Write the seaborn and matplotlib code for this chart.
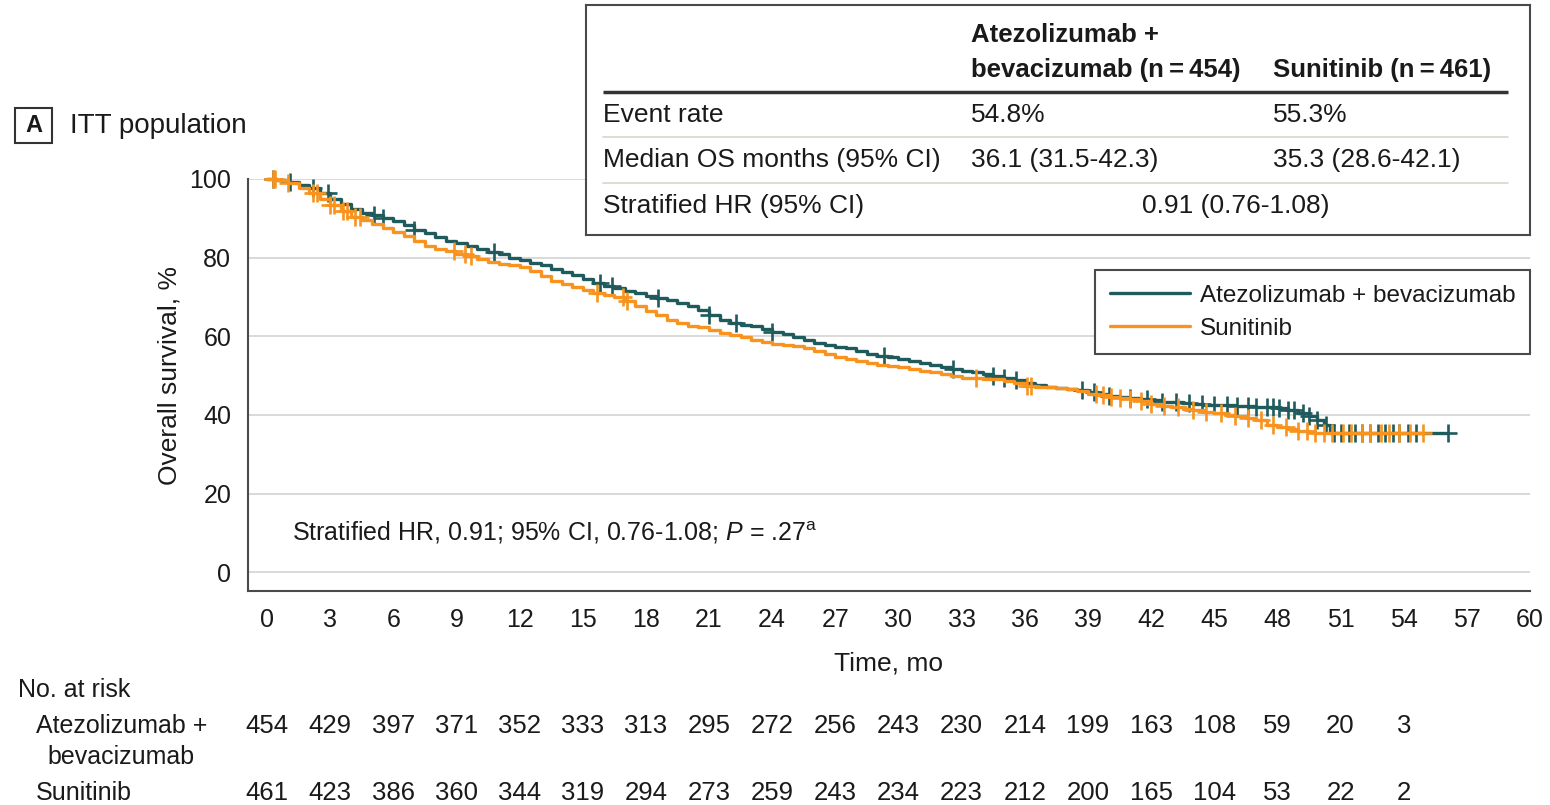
import numpy as np
import pandas as pd
import matplotlib
matplotlib.use("Agg")
import matplotlib.pyplot as plt
import seaborn as sns
from matplotlib.patches import Rectangle
from matplotlib.lines import Line2D
from matplotlib.transforms import blended_transform_factory

# ---------------- data ----------------
arm_names = ["Atezolizumab + bevacizumab", "Sunitinib"]

atezo_months = [0, 0.5, 1.0, 1.5, 2.0, 2.5, 3.0, 3.5, 4.0, 4.5, 5.0, 5.5, 6.0, 6.5,
                7.0, 7.5, 8.0, 8.5, 9.0, 9.5, 10.0, 10.5, 11.0, 11.5, 12.0, 12.5,
                13.0, 13.5, 14.0, 14.5, 15.0, 15.5, 16.0, 16.5, 17.0, 17.5, 18.0,
                18.5, 19.0, 19.5, 20.0, 20.5, 21.0, 21.5, 22.0, 22.5, 23.0, 23.5,
                24.0, 24.5, 25.0, 25.5, 26.0, 26.5, 27.0, 27.5, 28.0, 28.5, 29.0,
                29.5, 30.0, 30.5, 31.0, 31.5, 32.0, 32.5, 33.0, 33.5, 34.0, 34.5,
                35.0, 35.5, 36.0, 36.5, 37.0, 37.5, 38.0, 38.5, 39.0, 39.5, 40.0,
                40.5, 41.0, 41.5, 42.0, 42.5, 43.0, 43.5, 44.0, 44.5, 45.0, 45.5,
                46.0, 46.5, 47.0, 47.5, 48.0, 48.5, 49.0, 49.5, 49.9, 50.2, 50.5]
atezo_surv = [100, 99.8, 99.3, 98.5, 97.6, 96.4, 95.0, 93.6, 92.3, 91.4, 90.9, 90.2,
              89.3, 88.2, 87.0, 86.2, 85.2, 84.3, 83.6, 83.0, 82.3, 81.5, 80.9, 80.0,
              79.3, 78.7, 78.0, 77.2, 76.4, 75.5, 74.6, 73.6, 72.9, 72.3, 71.6, 70.9,
              70.3, 69.8, 69.2, 68.4, 67.6, 66.7, 65.3, 64.2, 63.4, 62.9, 62.5, 61.9,
              61.2, 60.6, 59.9, 59.1, 58.4, 57.8, 57.3, 56.9, 56.3, 55.5, 55.0, 54.6,
              54.1, 53.7, 53.2, 52.7, 52.1, 51.6, 51.2, 50.8, 50.4, 49.9, 49.4, 48.9,
              48.2, 47.6, 47.2, 46.9, 46.6, 46.3, 45.9, 45.3, 44.9, 44.6, 44.3, 44.0,
              43.7, 43.4, 43.2, 43.0, 42.8, 42.6, 42.5, 42.4, 42.3, 42.2, 42.1, 42.0,
              41.8, 41.3, 40.6, 39.6, 38.6, 37.4, 35.5]
atezo_censored = [0.3, 1.1, 2.2, 2.9, 5.1, 5.5, 7.0, 10.8, 15.8, 16.4, 18.6, 21.0,
                  22.3, 24.0, 29.3, 32.6, 34.5, 35.0, 35.6, 38.7, 39.3, 40.0, 41.0,
                  41.8, 42.5, 43.2, 43.8, 44.4, 45.0, 45.6, 46.1, 46.6, 47.0, 47.5,
                  47.8, 48.1, 48.5, 48.8, 49.2, 49.5, 49.9, 50.3, 50.7, 51.0, 51.4,
                  51.7, 52.0, 52.4, 52.8, 53.1, 53.5, 53.8, 54.2, 54.6, 56.1]

suni_months = [0, 0.5, 1.0, 1.5, 2.0, 2.5, 3.0, 3.5, 4.0, 4.5, 5.0, 5.5, 6.0, 6.5,
               7.0, 7.5, 8.0, 8.5, 9.0, 9.5, 10.0, 10.5, 11.0, 11.5, 12.0, 12.5,
               13.0, 13.5, 14.0, 14.5, 15.0, 15.5, 16.0, 16.5, 17.0, 17.5, 18.0,
               18.5, 19.0, 19.5, 20.0, 20.5, 21.0, 21.5, 22.0, 22.5, 23.0, 23.5,
               24.0, 24.5, 25.0, 25.5, 26.0, 26.5, 27.0, 27.5, 28.0, 28.5, 29.0,
               29.5, 30.0, 30.5, 31.0, 31.5, 32.0, 32.5, 33.0, 33.5, 34.0, 34.5,
               35.0, 35.5, 36.0, 36.5, 37.0, 37.5, 38.0, 38.5, 39.0, 39.5, 40.0,
               40.5, 41.0, 41.5, 42.0, 42.5, 43.0, 43.5, 44.0, 44.5, 45.0, 45.5,
               46.0, 46.5, 47.0, 47.5, 48.0, 48.5, 49.0, 49.5, 49.8]
suni_surv = [100, 99.7, 99.0, 97.8, 96.5, 95.0, 93.4, 91.8, 90.4, 89.5, 88.6, 87.6,
             86.6, 85.4, 84.2, 83.0, 82.2, 81.6, 81.0, 80.3, 79.6, 78.9, 78.5, 78.2,
             77.7, 76.5, 75.2, 74.0, 73.2, 72.5, 71.8, 71.1, 70.6, 69.9, 69.0, 67.6,
             66.4, 65.4, 64.2, 63.3, 62.6, 62.3, 61.7, 60.9, 60.4, 59.9, 59.0, 58.6,
             58.0, 57.8, 57.6, 57.0, 56.3, 55.5, 54.7, 54.2, 53.6, 53.2, 52.8, 52.5,
             52.1, 51.6, 51.2, 50.9, 50.5, 49.9, 49.4, 49.3, 49.2, 49.1, 48.6, 48.0,
             47.4, 47.2, 47.0, 46.8, 46.5, 46.0, 45.4, 45.0, 44.6, 44.3, 44.1, 43.6,
             42.8, 42.3, 42.0, 41.6, 41.2, 40.8, 40.4, 40.0, 39.6, 39.3, 38.8, 37.5,
             36.8, 36.4, 36.0, 35.6, 35.3]
suni_censored = [0.3, 0.4, 1.0, 2.2, 2.4, 3.0, 3.2, 3.6, 3.8, 4.2, 4.4, 8.9, 9.4,
                 9.7, 15.7, 16.9, 17.1, 33.7, 36.1, 36.3, 39.4, 39.7, 40.1, 40.5,
                 41.0, 41.5, 42.0, 42.6, 43.3, 44.0, 44.6, 45.3, 46.0, 46.6, 47.2,
                 47.8, 48.4, 49.0, 49.4, 49.8, 50.2, 50.6, 51.1, 51.5, 52.0, 52.4,
                 52.9, 53.3, 53.8, 54.3, 54.9]

risk_months = list(range(0, 55, 3))
atezo_at_risk = [454, 429, 397, 371, 352, 333, 313, 295, 272, 256, 243, 230, 214,
                 199, 163, 108, 59, 20, 3]
suni_at_risk = [461, 423, 386, 360, 344, 319, 294, 273, 259, 243, 234, 223, 212,
                200, 165, 104, 53, 22, 2]

x_ticks = list(range(0, 61, 3))
y_ticks = list(range(0, 101, 20))

table_header = ["Atezolizumab +", "bevacizumab (n\u2009=\u2009454)", "Sunitinib (n\u2009=\u2009461)"]
table_rows = ["Event rate", "Median OS months (95% CI)", "Stratified HR (95% CI)"]
table_atezo = ["54.8%", "36.1 (31.5-42.3)"]
table_suni = ["55.3%", "35.3 (28.6-42.1)"]
table_hr = "0.91 (0.76-1.08)"

# ---------------- style ----------------
TEAL = "#1f5b5c"
ORANGE = "#f7931e"
INK = "#1a1a1a"
SPINE = "#4a4a4a"

sns.set_style("white")
plt.rcParams["font.family"] = ["Liberation Sans", "DejaVu Sans"]
plt.rcParams["mathtext.fontset"] = "custom"
plt.rcParams["mathtext.rm"] = "Liberation Sans"
plt.rcParams["mathtext.it"] = "Liberation Sans:italic"
plt.rcParams["text.color"] = INK

W, H = 1550, 805
fig = plt.figure(figsize=(W / 100, H / 100), dpi=100)
fig.patch.set_facecolor("white")


def fx(x):
    return x / W


def fy(y):
    return 1 - y / H


ax = fig.add_axes([fx(248), fy(591), fx(1530) - fx(248), fy(179) - fy(591)])


def km_frame(months, surv, censored):
    t = list(months) + [max(censored)]
    s = list(surv) + [surv[-1]]
    return pd.DataFrame({"Time": t, "Survival": s})


def surv_at(times, months, surv):
    idx = np.searchsorted(np.asarray(months), np.asarray(times), side="right") - 1
    return np.asarray(surv)[idx]


arms = [
    (atezo_months, atezo_surv, atezo_censored, TEAL, 3),
    (suni_months, suni_surv, suni_censored, ORANGE, 4),
]
for months, surv, cens, col, z in arms:
    df = km_frame(months, surv, cens)
    sns.lineplot(data=df, x="Time", y="Survival", ax=ax, color=col, lw=2.4,
                 drawstyle="steps-post", estimator=None, sort=False,
                 clip_on=False, zorder=z)
    sns.scatterplot(x=cens, y=surv_at(cens, months, surv), ax=ax, marker="+",
                    s=150, linewidth=1.9, color=col, clip_on=False, zorder=z,
                    legend=False)

ax.set_xlim(-0.9, 60)
ax.set_ylim(-4.8, 100)
ax.set_xticks(x_ticks)
ax.set_yticks(y_ticks)
ax.yaxis.grid(True, color="#d9d9d9", lw=1.4)
ax.xaxis.grid(False)
ax.set_axisbelow(True)
for side in ["top", "right"]:
    ax.spines[side].set_visible(False)
for side in ["left", "bottom"]:
    ax.spines[side].set_color(SPINE)
    ax.spines[side].set_linewidth(1.5)
ax.tick_params(direction="out", length=7, width=1.5, color=SPINE,
               labelsize=18, labelcolor=INK, pad=5)

ax.set_xlabel("Time, mo", fontsize=19, color=INK)
ax.xaxis.set_label_coords(0.5, -0.146)
ax.set_ylabel("Overall survival, %", fontsize=19, color=INK)
ax.yaxis.set_label_coords(-0.052, 0.524)

ax.text(1.2, 10, r"Stratified HR, 0.91; 95% CI, 0.76-1.08; $\it{P}$ = .27$^{\rm a}$",
        fontsize=18, va="center", ha="left", color=INK)

handles = [Line2D([], [], color=TEAL, lw=2.4), Line2D([], [], color=ORANGE, lw=2.4)]
leg = ax.legend(handles, arm_names, loc="upper right",
                bbox_to_anchor=(1.0, (591 - 270) / 412), frameon=True,
                fancybox=False, edgecolor=SPINE, framealpha=1, fontsize=17.5,
                handlelength=3.3, handletextpad=0.4, borderpad=0.6,
                labelspacing=0.45, borderaxespad=0)
leg.get_frame().set_linewidth(1.5)

# panel label
fig.add_artist(Rectangle((fx(15), fy(143)), fx(52) - fx(15), fy(108) - fy(143),
                         transform=fig.transFigure, fill=False, ec="#333333", lw=1.5))
fig.text(fx(33.5), fy(126), "A", fontsize=17, weight="bold", ha="center", va="center")
fig.text(fx(70), fy(126), "ITT population", fontsize=20, ha="left", va="center")

# summary table
tab = fig.add_axes([fx(586), fy(235), fx(1530) - fx(586), fy(5) - fy(235)], zorder=5)
tab.set_xlim(586, 1530)
tab.set_ylim(235, 5)
tab.set_xticks([])
tab.set_yticks([])
tab.set_facecolor("white")
for sp in tab.spines.values():
    sp.set_color(SPINE)
    sp.set_linewidth(1.5)

col1, col2, lab_x = 971, 1273, 603
tab.text(col1, 35, table_header[0], fontsize=18.5, weight="bold", va="center")
tab.text(col1, 70, table_header[1], fontsize=18.5, weight="bold", va="center")
tab.text(col2, 70, table_header[2], fontsize=18.5, weight="bold", va="center")
tab.plot([603, 1508], [92, 92], color="#333333", lw=2.5, solid_capstyle="butt")
row_y = [115, 160, 206]
for yy in [137, 183]:
    tab.plot([603, 1508], [yy, yy], color="#d9d6c8", lw=1.2)
for label, yy in zip(table_rows, row_y):
    tab.text(lab_x, yy, label, fontsize=19, va="center")
for i in range(2):
    tab.text(col1, row_y[i], table_atezo[i], fontsize=19, va="center")
    tab.text(col2, row_y[i], table_suni[i], fontsize=19, va="center")
tab.text(1236, row_y[2], table_hr, fontsize=19, va="center", ha="center")

# number at risk
trans = blended_transform_factory(ax.transData, fig.transFigure)
fig.text(fx(18), fy(690), "No. at risk", fontsize=18, va="center")
fig.text(fx(36), fy(726), "Atezolizumab +", fontsize=18, va="center")
fig.text(fx(47), fy(757), "bevacizumab", fontsize=18, va="center")
fig.text(fx(36), fy(793), "Sunitinib", fontsize=18, va="center")
for t, n1, n2 in zip(risk_months, atezo_at_risk, suni_at_risk):
    ax.text(t, fy(726), str(n1), transform=trans, ha="center", va="center",
            fontsize=18.5, clip_on=False)
    ax.text(t, fy(793), str(n2), transform=trans, ha="center", va="center",
            fontsize=18.5, clip_on=False)

fig.savefig("out.png", dpi=100, facecolor="white")
